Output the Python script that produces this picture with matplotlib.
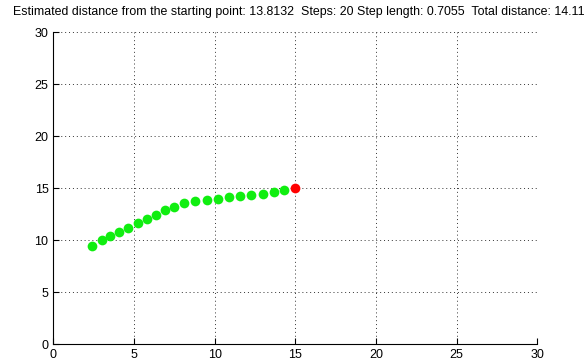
import numpy as np
import matplotlib
matplotlib.use("Agg")
import matplotlib.pyplot as plt

# walk positions (green) and the final point (red)
path_x = [2.42, 3.00, 3.52, 4.07, 4.65, 5.23, 5.79, 6.37, 6.92, 7.50,
          8.12, 8.78, 9.51, 10.19, 10.89, 11.57, 12.26, 12.98, 13.66, 14.32]
path_y = [9.48, 10.00, 10.38, 10.77, 11.18, 11.66, 12.08, 12.46, 12.88, 13.23,
          13.62, 13.78, 13.85, 14.00, 14.13, 14.29, 14.38, 14.48, 14.64, 14.87]
end_x = [15]
end_y = [15]
ticks = [0, 5, 10, 15, 20, 25, 30]
title = ("Estimated distance from the starting point: 13.8132  Steps: 20 "
         "Step length: 0.7055  Total distance: 14.11")

plt.rcParams['font.family'] = ['Liberation Sans', 'DejaVu Sans']

fig = plt.figure(figsize=(5.86, 3.63), dpi=100)
ax = fig.add_axes([0.091, 0.0515, 0.826, 0.86])

ax.plot(path_x, path_y, 'o', color='#10ee10', markersize=7, markeredgewidth=0)
ax.plot(end_x, end_y, 'o', color='#ff0000', markersize=7, markeredgewidth=0)

ax.set_xlim(0, 30)
ax.set_ylim(0, 30)
ax.set_xticks(ticks)
ax.set_yticks(ticks)
ax.grid(True, color='#333333', linestyle=(0, (1, 3)), linewidth=0.7)
ax.spines['top'].set_visible(False)
ax.spines['right'].set_visible(False)
ax.tick_params(direction='in', length=4, labelsize=9, width=0.8)
ax.set_title(title, fontsize=8.95, pad=12, x=0.508)

plt.savefig("out.png", dpi=100)
